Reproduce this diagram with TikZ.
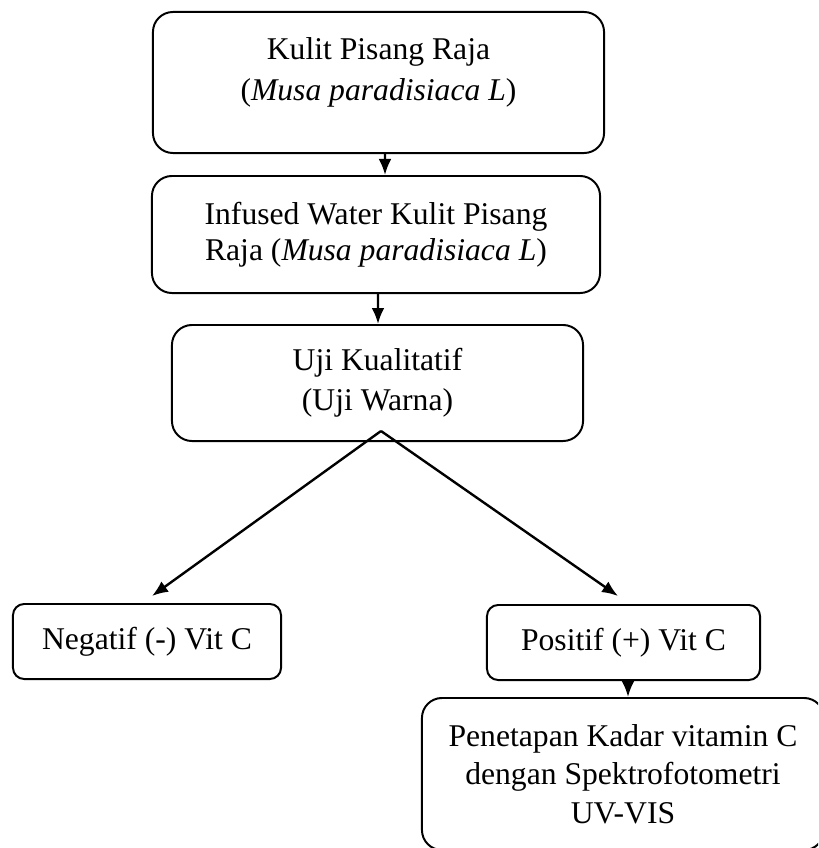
\documentclass[tikz,border=0pt]{standalone}
\usepackage{fontspec}
\setmainfont{Liberation Serif}
\usetikzlibrary{arrows.meta,calc}

\tikzset{
  box/.style={draw,line width=1.4pt,rounded corners=0.5cm,align=center,
    font=\fontsize{22.5}{25.6}\selectfont,inner sep=4pt},
  smallbox/.style={box,rounded corners=0.28cm}
}

\begin{document}
\begin{tikzpicture}[->,>={Latex[length=0.4cm,width=0.32cm]},line width=1.4pt,x=0.025cm,y=-0.025cm]
    \clip[-] (0,0) rectangle (818,848);
    \node[box,minimum width=11.275cm,minimum height=3.525cm,text depth=0.69cm] (kulit) at (378.5,82.5)
        {Kulit Pisang Raja\\[0.125cm](\textit{Musa paradisiaca L})};
    \node[box,minimum width=11.2cm,minimum height=2.925cm] (infused) at (376,234.5)
        {Infused Water Kulit Pisang\\Raja (\textit{Musa paradisiaca L})};
    \node[box,minimum width=10.275cm,minimum height=2.9cm] (uji) at (377.5,383)
        {Uji Kualitatif\\[0.1cm](Uji Warna)};
    \node[smallbox,minimum width=6.7cm,minimum height=1.875cm] (neg) at (147,641.5)
        {Negatif (-) Vit C};
    \node[smallbox,minimum width=6.825cm,minimum height=1.875cm] (pos) at (623.5,642.5)
        {Positif (+) Vit C};
    \node[box,minimum width=10.05cm,minimum height=3.8cm] (kadar) at (623,774)
        {Penetapan Kadar vitamin C\\[0.06cm]dengan Spektrofotometri\\[0.06cm]UV-VIS};
    \coordinate (fork) at ($(uji.south)+(3.5,-11)$);
    \path[line width=1.7pt]
    ([xshift=0.1625cm]kulit.south) edge ([xshift=0.225cm]infused.north)
    ([xshift=0.05cm]infused.south) edge ([xshift=0.0125cm]uji.north)
    (fork) edge ($(neg.north)+(5,-7)$)
    (fork) edge ($(pos.north)+(-5.5,-8)$)
    ([xshift=0.1125cm]pos.south) edge ([xshift=0.125cm]kadar.north)
;
  \end{tikzpicture}
\end{document}
